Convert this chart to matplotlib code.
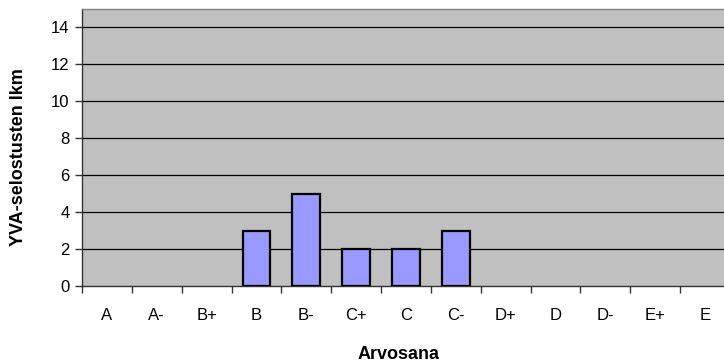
import matplotlib.pyplot as plt
import numpy as np

plt.rcParams['font.family'] = ['Liberation Sans', 'DejaVu Sans']

grades = ['A', 'A-', 'B+', 'B', 'B-', 'C+', 'C', 'C-', 'D+', 'D', 'D-', 'E+', 'E']
counts = [0, 0, 0, 3, 5, 2, 2, 3, 0, 0, 0, 0, 0]
yticks = [0, 2, 4, 6, 8, 10, 12, 14]

fig = plt.figure(figsize=(7.24, 3.62), dpi=100)
# plot area runs slightly past the right edge of the figure
ax = fig.add_axes([82 / 724, 1 - 286 / 362, 648 / 724, 277 / 362])
ax.set_facecolor('#C0C0C0')

x = np.arange(len(grades))
edges = ['black' if c > 0 else 'none' for c in counts]
ax.bar(x, counts, width=0.56, color='#9999FF', edgecolor=edges, linewidth=1.6, zorder=3)

for y in yticks[1:]:
    ax.axhline(y, color='black', linewidth=0.9, zorder=1)

ax.set_xlim(-0.5, len(grades) - 0.5)
ax.set_ylim(0, 15)
ax.set_yticks(yticks)
ax.set_xticks(x)
ax.set_xticklabels(grades)
ax.set_xticks(np.arange(-0.5, len(grades), 1), minor=True)
ax.tick_params(axis='x', which='major', length=0, pad=16, labelsize=12)
ax.tick_params(axis='x', which='minor', length=5, width=1, color='#333333')
ax.tick_params(axis='y', length=5, width=1, color='#333333', labelsize=12, pad=4)

for side in ['top', 'right']:
    ax.spines[side].set_color('#808080')
    ax.spines[side].set_linewidth(1)
for side in ['left', 'bottom']:
    ax.spines[side].set_color('#333333')
    ax.spines[side].set_linewidth(1)

ax.set_xlabel('Arvosana', fontweight='bold', fontsize=13)
ax.xaxis.set_label_coords(0.488, -0.215)
ax.set_ylabel('YVA-selostusten lkm', fontweight='bold', fontsize=13)
ax.yaxis.set_label_coords(-0.085, 0.464)

fig.savefig('out.png', dpi=100)
